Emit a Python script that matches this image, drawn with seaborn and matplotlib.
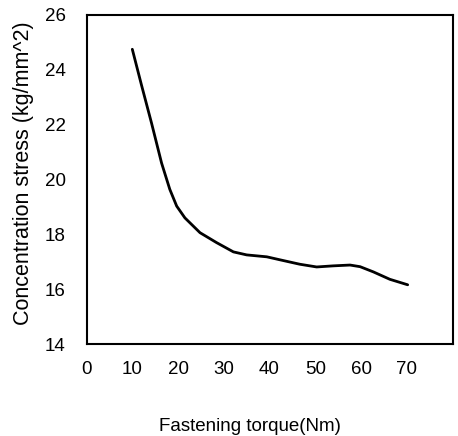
import matplotlib
matplotlib.use('Agg')
import numpy as np
import pandas as pd
import seaborn as sns
import matplotlib.pyplot as plt

# values
torque = [10.0, 12.0, 14.2, 16.4, 18.2, 19.7, 21.5, 24.8, 28.4, 32.1, 35.0,
          39.4, 42.3, 46.6, 50.3, 53.9, 57.6, 59.8, 62.7, 66.3, 70.2]
stress = [24.75, 23.45, 22.06, 20.6, 19.64, 19.03, 18.6, 18.06, 17.7, 17.36, 17.25,
          17.18, 17.07, 16.91, 16.81, 16.85, 16.88, 16.82, 16.63, 16.36, 16.16]
x_ticks = [0, 10, 20, 30, 40, 50, 60, 70]
y_ticks = [14, 16, 18, 20, 22, 24, 26]

df = pd.DataFrame({'torque': torque, 'stress': stress})

sns.set_theme(style='white')
plt.rcParams['font.family'] = ['Liberation Sans', 'DejaVu Sans']

fig = plt.figure(figsize=(4.58, 4.36), dpi=100)
ax = fig.add_axes([0.189, 0.211, 0.799, 0.7546])

sns.lineplot(data=df, x='torque', y='stress', color='black', linewidth=2.0, ax=ax)

ax.set_xlim(0, 80)
ax.set_ylim(14, 26)
ax.set_xticks(x_ticks)
ax.set_yticks(y_ticks)
ax.tick_params(direction='in', length=3, width=0.8, labelsize=13.5, colors='black')
ax.tick_params(axis='x', pad=12)
ax.tick_params(axis='y', pad=15)

for s in ax.spines.values():
    s.set_visible(True)
    s.set_color('black')
    s.set_linewidth(1.5)

ax.set_xlabel('Fastening torque(Nm)', fontsize=13.5, color='black')
ax.xaxis.set_label_coords(0.446, -0.226)
ax.set_ylabel('Concentration stress (kg/mm^2)', fontsize=15.5, color='black')
ax.yaxis.set_label_coords(-0.143, 0.52)

plt.savefig('out.png', dpi=100)
plt.close('all')
